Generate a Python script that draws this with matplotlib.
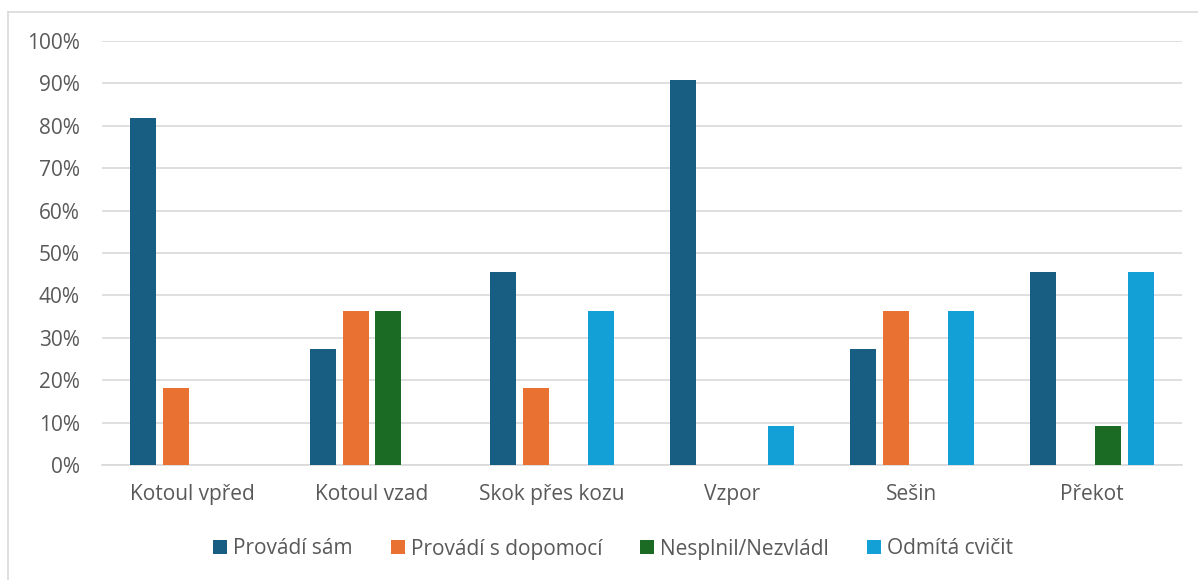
import numpy as np
import matplotlib.pyplot as plt
from matplotlib.lines import Line2D
from matplotlib.ticker import PercentFormatter

plt.rcParams['font.family'] = ['Open Sans', 'DejaVu Sans']

categories = ["Kotoul vpřed", "Kotoul vzad", "Skok přes kozu", "Vzpor", "Sešin", "Překot"]
series_names = ["Provádí sám", "Provádí s dopomocí", "Nesplnil/Nezvládl", "Odmítá cvičit"]
provadi_sam = [81.8, 27.3, 45.5, 90.9, 27.3, 45.5]
s_dopomoci = [18.2, 36.4, 18.2, 0, 36.4, 0]
nesplnil = [0, 36.4, 0, 0, 0, 9.1]
odmita = [0, 0, 36.4, 9.1, 36.4, 45.5]
colors = ["#175e82", "#e97232", "#1b6b25", "#12a0d7"]

values = [provadi_sam, s_dopomoci, nesplnil, odmita]

fig = plt.figure(figsize=(11.98, 5.8), dpi=100)
# plot area in pixels: x 102..1182, y 41..465
ax = fig.add_axes([102 / 1198, 1 - 465 / 580, 1080 / 1198, 424 / 580])

x = np.arange(len(categories))
step = 0.1806
width = 0.144
for i, (name, vals, c) in enumerate(zip(series_names, values, colors)):
    ax.bar(x + (i - 1.5) * step, vals, width, color=c, label=name, zorder=3)

ax.set_xlim(-0.5, len(categories) - 0.5)
ax.set_ylim(0, 100)
ax.set_yticks(range(0, 101, 10))
ax.yaxis.set_major_formatter(PercentFormatter(decimals=0))
ax.set_xticks(x)
ax.set_xticklabels(categories)
ax.grid(axis='y', color='#d9d9d9', linewidth=1.2, zorder=0)
for s in ['top', 'right', 'left']:
    ax.spines[s].set_visible(False)
ax.spines['bottom'].set_color('#d9d9d9')
ax.spines['bottom'].set_linewidth(1.2)
ax.tick_params(axis='both', length=0, labelsize=15, colors='#595959')
ax.tick_params(axis='x', pad=14)
ax.tick_params(axis='y', pad=16)

fig.legend(loc='center', bbox_to_anchor=(613 / 1198, 1 - 549 / 580), ncol=4, frameon=False,
           fontsize=15, handlelength=0.67, handleheight=0.67, handletextpad=0.29,
           columnspacing=1.83, labelcolor='#595959')

# chart frame: only top and left edges fall inside the image
fig.add_artist(Line2D([8 / 1198, 8 / 1198], [0, 1 - 12 / 580], transform=fig.transFigure,
                      color='#d9d9d9', linewidth=1.2))
fig.add_artist(Line2D([8 / 1198, 1], [1 - 12 / 580, 1 - 12 / 580], transform=fig.transFigure,
                      color='#d9d9d9', linewidth=1.2))

fig.savefig("out.png", dpi=100)
